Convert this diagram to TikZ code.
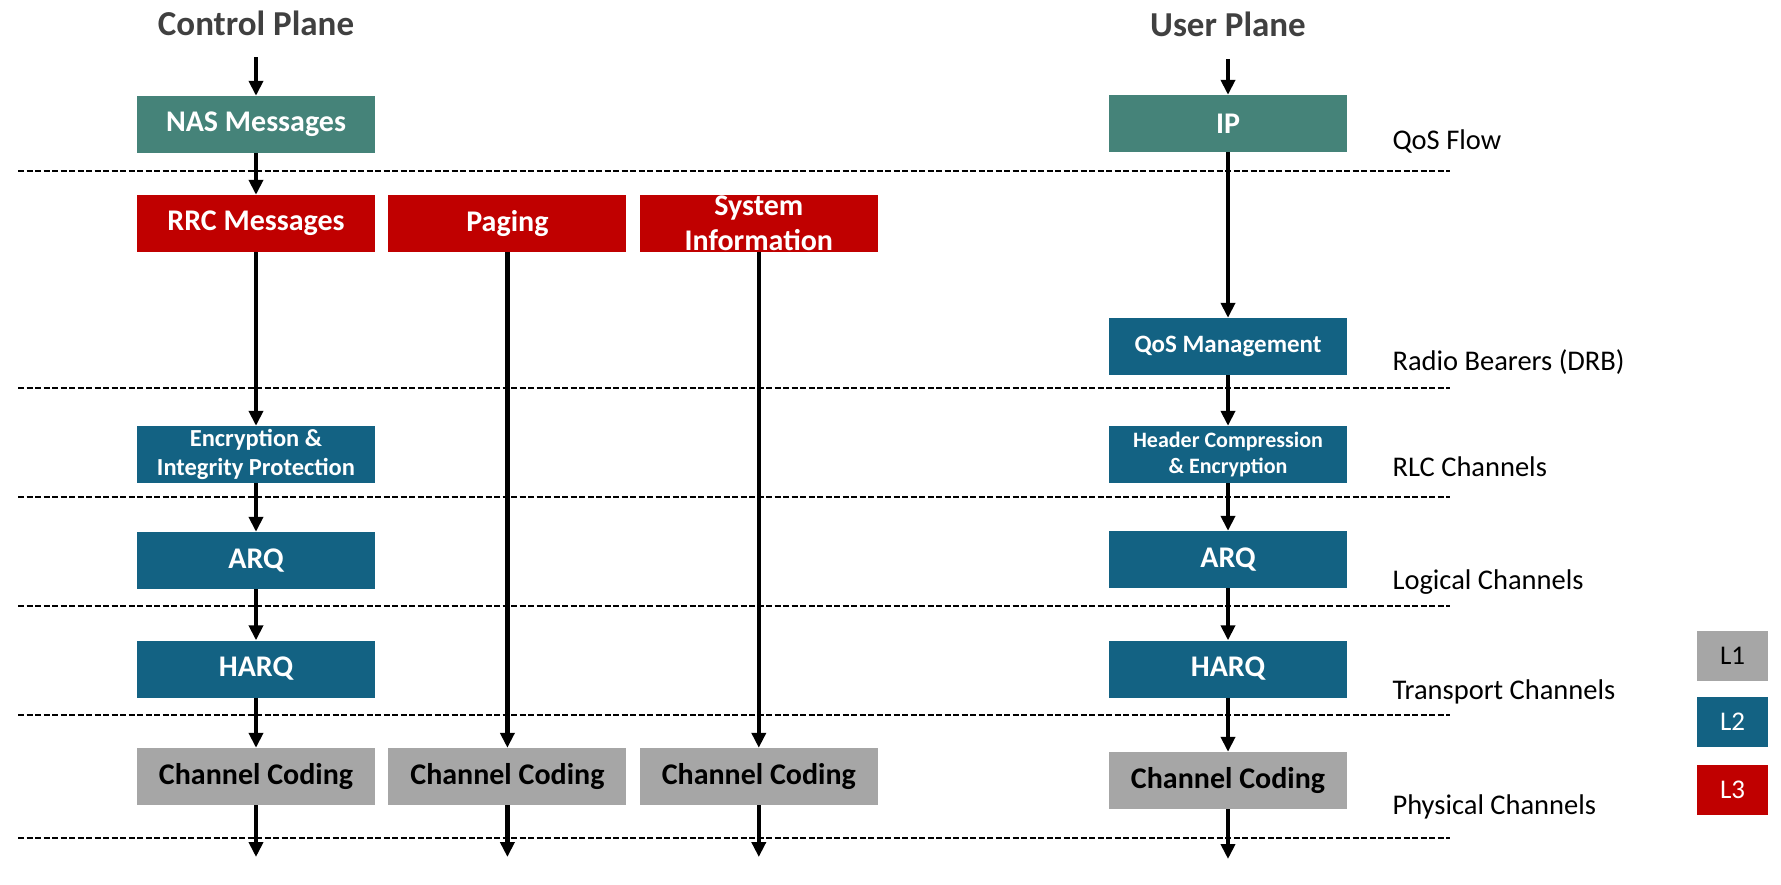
\documentclass[tikz,border=0pt]{standalone}
\usepackage{fontspec}
\setmainfont{Carlito}
\usetikzlibrary{arrows.meta, positioning}
\definecolor{coreteal}{HTML}{458379}
\definecolor{ltwo}{HTML}{136283}
\definecolor{lthree}{HTML}{C00000}
\definecolor{lone}{HTML}{A6A6A6}
\definecolor{titlegray}{HTML}{404040}

\begin{document}
\begin{tikzpicture}[
    x=1pt, y=-1pt,
    node distance=13pt,
    box/.style={rectangle, minimum width=238pt, minimum height=57pt, inner sep=0pt, text centered, text=white, font=\bfseries\fontsize{30}{35}\selectfont},
    small/.style={align=center, font=\bfseries\fontsize{24.5}{28.5}\selectfont},
    core/.style={box, fill=coreteal},
    lthreebox/.style={box, fill=lthree},
    ltwobox/.style={box, fill=ltwo},
    lonebox/.style={box, fill=lone, text=black},
    legend/.style={rectangle, minimum width=71pt, minimum height=50pt, inner sep=0pt, text=white, font=\fontsize{27}{30}\selectfont},
    plane/.style={anchor=base, text=titlegray, font=\bfseries\fontsize{35}{40}\selectfont},
    chan/.style={anchor=base west, font=\fontsize{28.5}{32}\selectfont},
    layer/.style={dashed, dash pattern=on 6pt off 2.5pt, line width=2pt},
    arrow/.style={-{Triangle[length=15pt, width=14pt]}, line width=4.5pt}]
    \useasboundingbox (0,0) rectangle (1781,884);

    % Layer borders
    \draw[layer] (18,171) -- (1450,171);
    \draw[layer] (18,388) -- (1450,388);
    \draw[layer] (18,497) -- (1450,497);
    \draw[layer] (18,606) -- (1450,606);
    \draw[layer] (18,715) -- (1450,715);
    \draw[layer] (18,838) -- (1450,838);

    % Titles
    \node[plane] (cptitle) at (256,35) {Control Plane};
    \node[plane] (uptitle) at (1228,36) {User Plane};

    % Control plane
    \node[core] (nas) at (256,124.5) {NAS Messages};
    \node[lthreebox] (rrc) at (256,223.5) {RRC Messages};
    \node[lthreebox, right=of rrc] (paging) {Paging};
    \node[lthreebox, right=of paging, align=center] (sysinfo) {System\\Information};
    \node[ltwobox, small] (cpenc) at (256,454.5) {Encryption \&\\Integrity Protection};
    \node[ltwobox] (cparq) at (256,560.5) {ARQ};
    \node[ltwobox] (cpharq) at (256,669) {HARQ};
    \node[lonebox] (cpcc) at (256,776.5) {Channel Coding};
    \node[lonebox, right=of cpcc] (pgcc) {Channel Coding};
    \node[lonebox, right=of pgcc] (sicc) {Channel Coding};

    % User plane
    \node[core] (ip) at (1228,123.5) {IP};
    \node[ltwobox, font=\bfseries\fontsize{25}{30}\selectfont] (qos) at (1228,346.5) {QoS Management};
    \node[ltwobox, small, font=\bfseries\fontsize{22}{26}\selectfont] (upenc) at (1228,454.5) {Header Compression\\\& Encryption};
    \node[ltwobox] (uparq) at (1228,559.5) {ARQ};
    \node[ltwobox] (upharq) at (1228,669) {HARQ};
    \node[lonebox] (upcc) at (1228,780.5) {Channel Coding};

    % Channel names
    \node[chan] (qosflow) at (1389,149) {QoS Flow};
    \node[chan] (drb) at (1389,370) {Radio Bearers (DRB)};
    \node[chan] (rlc) at (1389,476) {RLC Channels};
    \node[chan] (logical) at (1389,589) {Logical Channels};
    \node[chan] (transport) at (1389,699) {Transport Channels};
    \node[chan] (physical) at (1389,814) {Physical Channels};

    % Legend
    \node[legend, fill=lone, text=black] (lone) at (1732.5,656) {L1};
    \node[legend, fill=ltwo] (ltwo) at (1732.5,722) {L2};
    \node[legend, fill=lthree] (lthree) at (1732.5,789.5) {L3};

    % Free ends
    \coordinate (cpin) at (256,57);
    \coordinate (upin) at (1228,59);
    \coordinate (cpout) at (256,857);
    \coordinate (pgout) at (paging |- cpout);
    \coordinate (siout) at (sysinfo |- cpout);
    \coordinate (upout) at (1228,859);

    % Arrows
    \draw[arrow] (cpin) -- (nas);
    \draw[arrow] (nas) -- (rrc);
    \draw[arrow] (rrc) -- (cpenc);
    \draw[arrow] (cpenc) -- (cparq);
    \draw[arrow] (cparq) -- (cpharq);
    \draw[arrow] (cpharq) -- (cpcc);
    \draw[arrow] (cpcc) -- (cpout);
    \draw[arrow] (paging) -- (pgcc);
    \draw[arrow] (pgcc) -- (pgout);
    \draw[arrow] (sysinfo) -- (sicc);
    \draw[arrow] (sicc) -- (siout);
    \draw[arrow] (upin) -- (ip);
    \draw[arrow] (ip) -- (qos);
    \draw[arrow] (qos) -- (upenc);
    \draw[arrow] (upenc) -- (uparq);
    \draw[arrow] (uparq) -- (upharq);
    \draw[arrow] (upharq) -- (upcc);
    \draw[arrow] (upcc) -- (upout);

\end{tikzpicture}
\end{document}
